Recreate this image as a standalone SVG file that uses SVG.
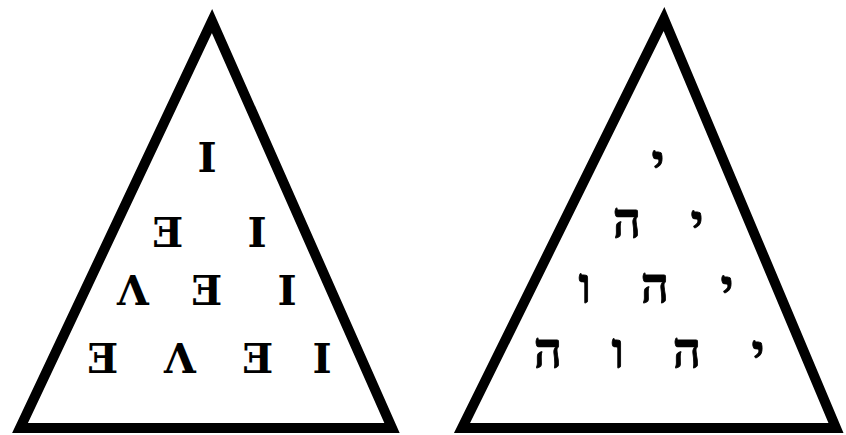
<svg xmlns="http://www.w3.org/2000/svg" width="846" height="435" viewBox="0 0 846 435">
<style>
.tri{fill:none;stroke:#000;stroke-width:10;stroke-linejoin:miter}
.lat{font-family:"DejaVu Serif","Liberation Serif",serif;font-weight:bold;font-size:41px;text-anchor:middle;fill:#000}
.heb{font-family:"Liberation Serif","DejaVu Sans",serif;font-weight:bold;font-size:50px;text-anchor:middle;fill:#000;stroke:#000;stroke-width:0.8}
</style>
<rect width="846" height="435" fill="#fff"/>
<g id="left-triangle">
<polygon class="tri" points="212,21 20,428 392,428"/>
<text class="lat" x="207" y="172">I</text>
<text class="lat" x="168" y="247">Ǝ</text>
<text class="lat" x="257" y="247">I</text>
<text class="lat" x="133" y="305">Λ</text>
<text class="lat" x="207" y="305">Ǝ</text>
<text class="lat" x="287" y="305">I</text>
<text class="lat" x="103" y="373">Ǝ</text>
<text class="lat" x="180" y="373">Λ</text>
<text class="lat" x="258" y="373">Ǝ</text>
<text class="lat" x="322" y="373">I</text>
</g>
<g id="right-triangle">
<polygon class="tri" points="664,19 462,428 836,428"/>
<text class="heb" x="658" y="180">י</text>
<text class="heb" x="627" y="238">ה</text>
<text class="heb" x="697" y="240">י</text>
<text class="heb" x="585" y="303">ו</text>
<text class="heb" x="655" y="303">ה</text>
<text class="heb" x="727" y="305">י</text>
<text class="heb" x="548" y="368">ה</text>
<text class="heb" x="618" y="368">ו</text>
<text class="heb" x="687" y="368">ה</text>
<text class="heb" x="758" y="370">י</text>
</g>
<g id="connectors"/>
</svg>
